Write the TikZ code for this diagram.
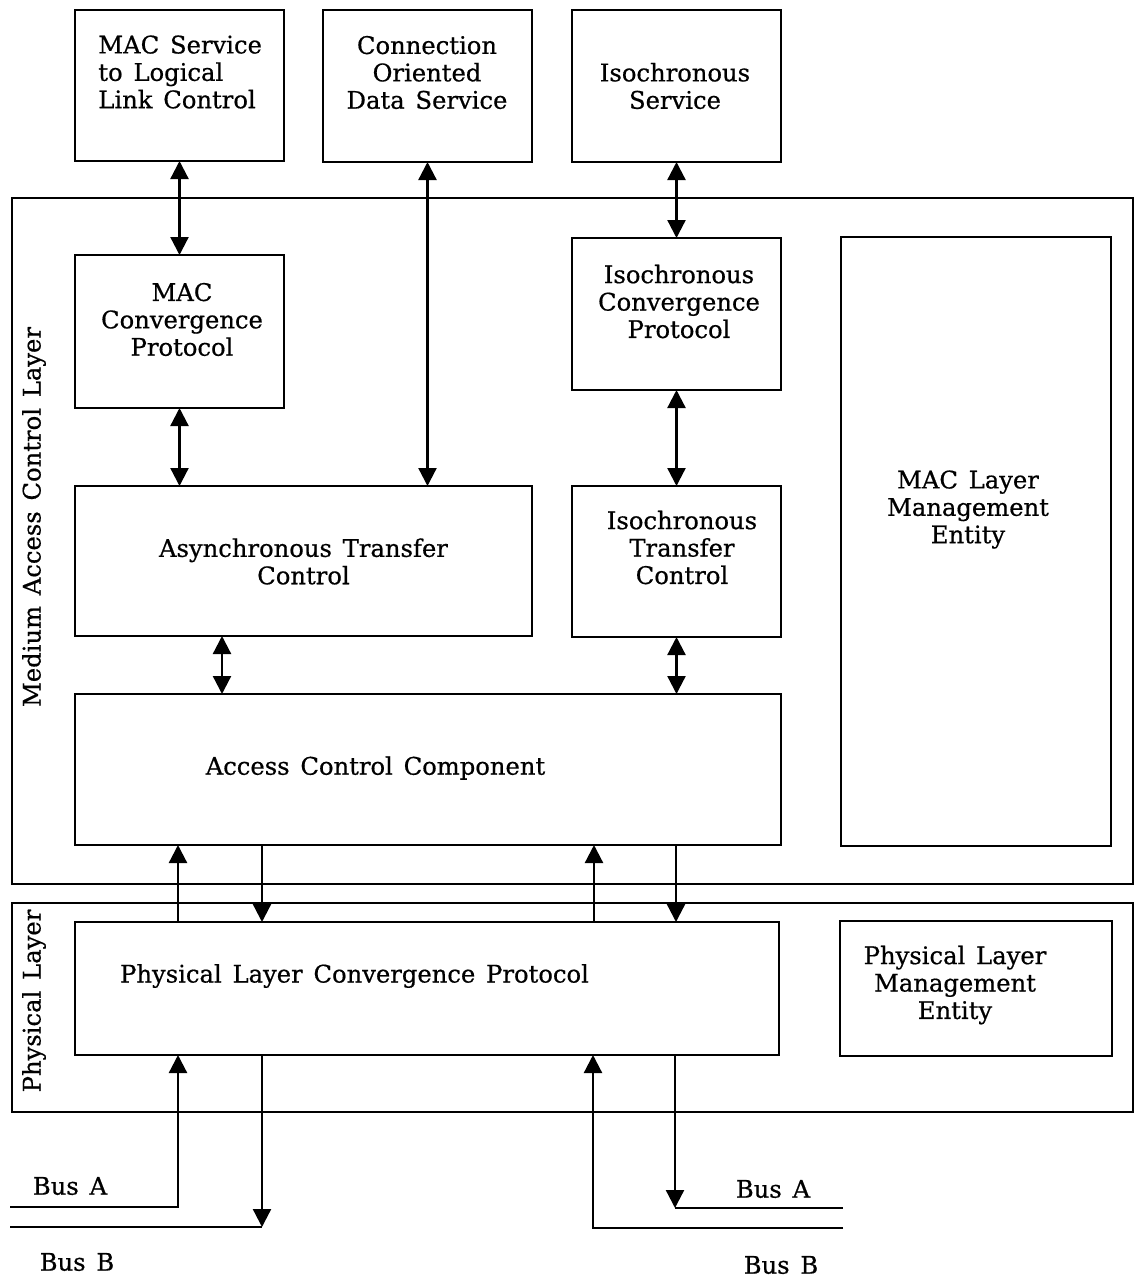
\documentclass[tikz,border=0pt]{standalone}
\usepackage{fontspec}
\setmainfont{DejaVu Serif}[WordSpace=1.4,FakeBold=0.6]
\usetikzlibrary{arrows.meta,calc}
% block whose border runs through the given corners (x1,y1)-(x2,y2)
\newcommand\mkbox[5]{%
  \node[blk,minimum width={(#4-#2)*0.02cm},minimum height={(#5-#3)*0.02cm}]
    (#1) at ({(#2+#4)/2},{(#3+#5)/2}) {};}
\begin{document}
\begin{tikzpicture}[x=0.02cm,y=-0.02cm,
  blk/.style={draw,line width=1.6pt,inner sep=0pt,outer sep=0pt},
  layer/.style={draw,line width=1.3pt,inner sep=0pt,outer sep=0pt},
  txt/.style={font=\fontsize{13.8}{15.6}\selectfont,align=center,inner sep=0pt},
  link/.style={line width=1.3pt},
  >={Triangle[length=0.36cm,width=0.36cm]}]
\useasboundingbox[fill=white] (0,0) rectangle (1139,1279);

% layer frames
\node[layer,minimum width={1121*0.02cm},minimum height={686*0.02cm}] (macl) at (572.5,541) {};
\node[layer,minimum width={1121*0.02cm},minimum height={209*0.02cm}] (phyl) at (572.5,1007.5) {};
\node[txt,rotate=90] (macltxt) at (34,517) {Medium Access Control Layer};
\node[txt,rotate=90] (phyltxt) at (34,1001) {Physical Layer};

% service boxes
\mkbox{llc}{75}{10}{284}{161}
\mkbox{cod}{323}{10}{532}{162}
\mkbox{iso}{572}{10}{781}{162}
% MAC layer blocks
\mkbox{mcp}{75}{255}{284}{408}
\mkbox{icp}{572}{238}{781}{390}
\mkbox{mlme}{841}{237}{1111}{846}
\mkbox{atc}{75}{486}{532}{636}
\mkbox{itc}{572}{486}{781}{637}
\mkbox{acc}{75}{694}{781}{845}
% physical layer blocks
\mkbox{plcp}{75}{922}{779}{1055}
\mkbox{plme}{840}{921}{1112}{1056}

% block texts
\node[txt,align=left,anchor=west] (llct) at (98,72) {MAC Service\\to Logical\\Link Control};
\node[txt] (codt) at (427,72.5) {Connection\\Oriented\\Data Service};
\node[txt] (isot) at (675,86) {Isochronous\\Service};
\node[txt] (mcpt) at (182,319.5) {MAC\\Convergence\\Protocol};
\node[txt] (icpt) at (679,301.5) {Isochronous\\Convergence\\Protocol};
\node[txt] (mlmet) at (968,509.5) {MAC Layer\\Management\\Entity};
\node[txt] (atct) at (303.5,561.5) {Asynchronous Transfer\\Control};
\node[txt] (itct) at (682,547.5) {Isochronous\\Transfer\\Control};
\node[txt] (acct) at (375.5,768) {Access Control Component};
\node[txt] (plcpt) at (354.5,976) {Physical Layer Convergence Protocol};
\node[txt] (plmet) at (955,985) {Physical Layer\\Management\\Entity};

% service access paths
\draw[link,<->] (llc.south) -- (mcp.north);
\draw[link,<->] (mcp.south) -- (mcp.south |- atc.north);
\draw[link,<->] (cod.south) -- (cod.south |- atc.north);
\draw[link,<->] (iso.south) -- (icp.north);
\draw[link,<->] (icp.south) -- (itc.north);
\draw[link,<->] ($(atc.south west)+(147,0)$) coordinate (a1) -- (a1 |- acc.north);
\draw[link,<->] (itc.south) -- (itc.south |- acc.north);

% access control <-> convergence protocol
\draw[link,->] ($(plcp.north west)+(103,0)$) coordinate (u1) -- (u1 |- acc.south);
\draw[link,->] ($(acc.south west)+(187,0)$) coordinate (d1) -- (d1 |- plcp.north);
\draw[link,->] ($(plcp.north west)+(519,0)$) coordinate (u2) -- (u2 |- acc.south);
\draw[link,->] ($(acc.south west)+(601,0)$) coordinate (d2) -- (d2 |- plcp.north);

% dual bus attachment
\coordinate (busAl) at (10,1207);
\coordinate (busBl) at (10,1227);
\coordinate (busAr) at (843,1208);
\coordinate (busBr) at (843,1228);
\draw[link,->] (busAl) -| ($(plcp.south west)+(103,0)$);
\draw[link,->] ($(plcp.south west)+(187,0)$) coordinate (b1) -- (b1 |- busBl);
\draw[link] (busBl) -- (b1 |- busBl);
\draw[link,->] (busBr) -| ($(plcp.south west)+(518,0)$);
\draw[link,->] ($(plcp.south west)+(600,0)$) coordinate (b2) -- (b2 |- busAr);
\draw[link] (b2 |- busAr) -- (busAr);

\node[txt] (busAlt) at (70,1186) {Bus A};
\node[txt] (busBlt) at (77,1262) {Bus B};
\node[txt] (busArt) at (773,1189) {Bus A};
\node[txt] (busBrt) at (781,1265) {Bus B};
\end{tikzpicture}
\end{document}
